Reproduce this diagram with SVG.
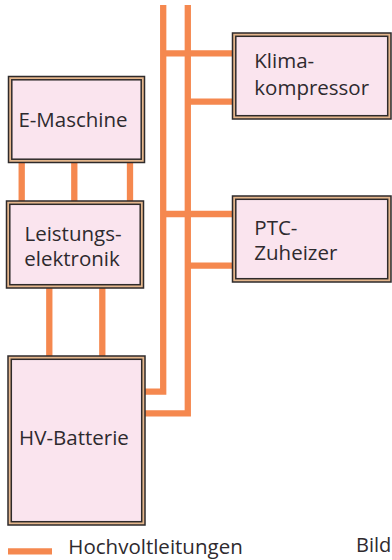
<svg xmlns="http://www.w3.org/2000/svg" width="392" height="560" viewBox="0 0 392 560">
<style>
.o{fill:#e4b68c;stroke:#2e2a2b;stroke-width:1.5}
.i{fill:#fae4ee;stroke:#2e2a2b;stroke-width:1.5}
.t{font-family:"Open Sans","Liberation Sans",sans-serif;font-size:20.5px;fill:#2e2a2e}
.w{fill:none;stroke:#f5884f;stroke-width:6.3;stroke-linecap:butt;stroke-linejoin:miter}
</style>
<rect width="392" height="560" fill="#ffffff"/>
<g id="connectors">
<path class="w" d="M21.7,162 V202 M74.3,162 V202 M130,162 V202"/>
<path class="w" d="M49.3,287 V357 M102.3,287 V357"/>
<path class="w" d="M144,391.6 H163.2 V5"/>
<path class="w" d="M144,413.4 H187.8 V5"/>
<path class="w" d="M163.2,53.4 H233 M187.8,101.6 H233"/>
<path class="w" d="M163.2,214 H233 M187.8,265.6 H233"/>
</g>
<g id="e-maschine">
<rect class="o" x="8.5" y="76.5" width="136" height="86"/>
<rect class="i" x="11.8" y="79.8" width="129.4" height="79.4"/>
<text class="t" x="73" y="127.3" text-anchor="middle">E-Maschine</text>
</g>
<g id="leistungselektronik">
<rect class="o" x="6.5" y="201" width="137" height="87"/>
<rect class="i" x="9.8" y="204.3" width="130.4" height="80.4"/>
<text class="t" x="73" y="241" text-anchor="middle">Leistungs-</text>
<text class="t" x="72" y="266" text-anchor="middle">elektronik</text>
</g>
<g id="hv-batterie">
<rect class="o" x="8" y="356" width="137" height="169"/>
<rect class="i" x="11.3" y="359.3" width="130.4" height="162.4"/>
<text class="t" x="74" y="445" text-anchor="middle">HV-Batterie</text>
</g>
<g id="klimakompressor">
<rect class="o" x="232.5" y="33" width="158.5" height="86"/>
<rect class="i" x="235.8" y="36.3" width="151.9" height="79.4"/>
<text class="t" x="254.3" y="68.3">Klima-</text>
<text class="t" x="254.3" y="94.5">kompressor</text>
</g>
<g id="ptc-zuheizer">
<rect class="o" x="232.5" y="196" width="158.5" height="86"/>
<rect class="i" x="235.8" y="199.3" width="151.9" height="79.4"/>
<text class="t" x="254.3" y="235">PTC-</text>
<text class="t" x="254.3" y="259.5">Zuheizer</text>
</g>
<g id="legend">
<line class="w" x1="8" y1="551.3" x2="52" y2="551.3"/>
<text class="t" x="68.3" y="554.3">Hochvoltleitungen</text>
<text class="t" x="356" y="551.5" style="font-size:20px">Bild</text>
</g>
</svg>
